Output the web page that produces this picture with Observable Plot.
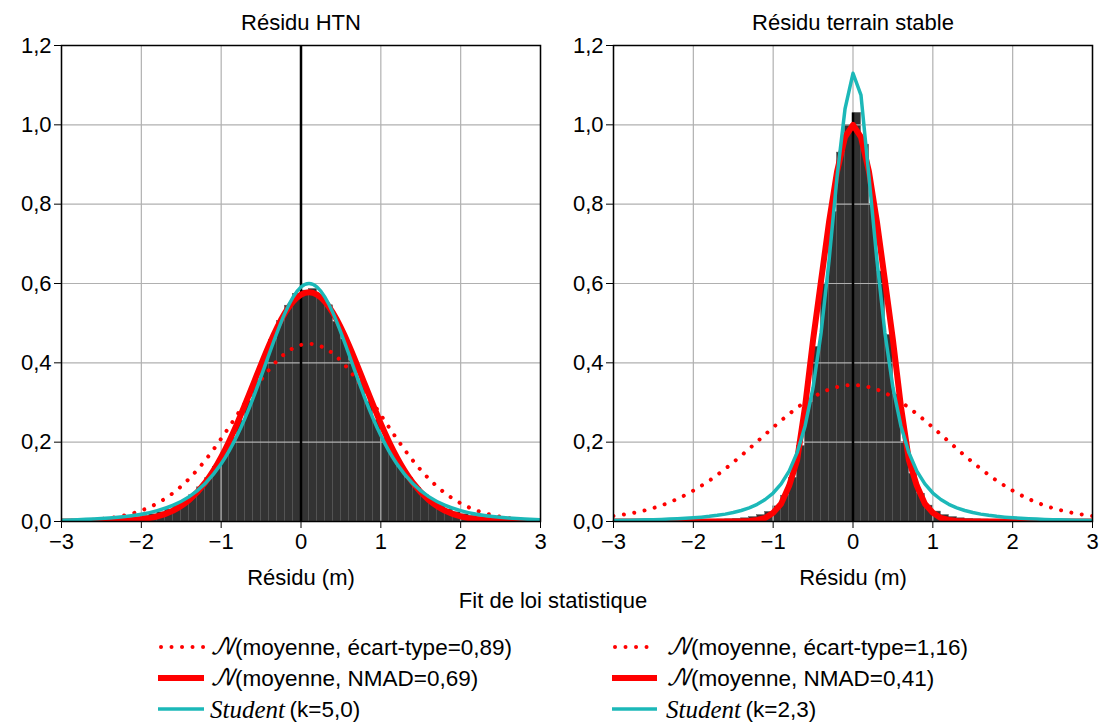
<!DOCTYPE html>
<html><head><meta charset="utf-8">
<script src="https://cdn.jsdelivr.net/npm/d3@7"></script>
<script src="https://cdn.jsdelivr.net/npm/@observablehq/plot@0.6"></script>
<style>
html,body{margin:0;padding:0;background:#fff;}
#wrap{position:relative;width:1107px;height:727px;overflow:hidden;font-family:"Liberation Sans",Arial,sans-serif;}
</style></head><body><div id="wrap"></div>
<script>
// ---------- data ----------
const panelTitles = ["Résidu HTN", "Résidu terrain stable"];
const xLabel = "Résidu (m)";
const figureLabel = "Fit de loi statistique";
const xTicks = [-3, -2, -1, 0, 1, 2, 3];
const yTicks = [0, 0.2, 0.4, 0.6, 0.8, 1.0, 1.2];

// histogram bin starts (width 0.1)
const binStart = [-3.0,-2.9,-2.8,-2.7,-2.6,-2.5,-2.4,-2.3,-2.2,-2.1,-2.0,-1.9,-1.8,-1.7,-1.6,-1.5,-1.4,-1.3,-1.2,-1.1,
  -1.0,-0.9,-0.8,-0.7,-0.6,-0.5,-0.4,-0.3,-0.2,-0.1,0.0,0.1,0.2,0.3,0.4,0.5,0.6,0.7,0.8,0.9,
  1.0,1.1,1.2,1.3,1.4,1.5,1.6,1.7,1.8,1.9,2.0,2.1,2.2,2.3,2.4,2.5,2.6,2.7,2.8,2.9];
const binWidth = 0.1;

const htnHist = [0.002,0.002,0.0025,0.003,0.0035,0.004,0.005,0.0065,0.008,0.0105,0.0136,0.018,0.023,0.030,0.039,0.051,0.066,0.086,0.109,0.138,
  0.171,0.210,0.254,0.303,0.354,0.407,0.458,0.505,0.544,0.574,0.582,0.586,0.571,0.545,0.503,0.459,0.405,0.355,0.301,0.255,
  0.209,0.172,0.137,0.110,0.085,0.066,0.051,0.039,0.030,0.023,0.018,0.0136,0.0105,0.008,0.0065,0.005,0.004,0.0035,0.003,0.0025];

const stableHist = [0.0013,0.0014,0.0015,0.0017,0.0019,0.0021,0.0024,0.0027,0.003,0.0033,0.0036,0.004,0.0045,0.005,0.0055,0.0065,0.008,0.011,0.016,0.024,
  0.038,0.065,0.11,0.19,0.30,0.44,0.60,0.78,0.93,1.00,1.03,0.95,0.80,0.63,0.47,0.32,0.20,0.12,0.07,0.04,
  0.025,0.016,0.011,0.008,0.0065,0.0055,0.005,0.0045,0.004,0.0036,0.0033,0.003,0.0027,0.0024,0.0021,0.0019,0.0017,0.0015,0.0014,0.0013];

// curve sample positions
const curveX02 = [-3.0,-2.8,-2.6,-2.4,-2.2,-2.0,-1.8,-1.6,-1.4,-1.2,-1.0,-0.8,-0.6,-0.4,-0.2,0.0,
  0.2,0.4,0.6,0.8,1.0,1.2,1.4,1.6,1.8,2.0,2.2,2.4,2.6,2.8,3.0];
const curveX01 = [-3.0,-2.9,-2.8,-2.7,-2.6,-2.5,-2.4,-2.3,-2.2,-2.1,-2.0,-1.9,-1.8,-1.7,-1.6,-1.5,-1.4,-1.3,-1.2,-1.1,
  -1.0,-0.9,-0.8,-0.7,-0.6,-0.5,-0.4,-0.3,-0.2,-0.1,0.0,0.1,0.2,0.3,0.4,0.5,0.6,0.7,0.8,0.9,
  1.0,1.1,1.2,1.3,1.4,1.5,1.6,1.7,1.8,1.9,2.0,2.1,2.2,2.3,2.4,2.5,2.6,2.7,2.8,2.9,3.0];

// Résidu HTN curves (on curveX02)
const htnNormSd = [0.0010,0.0022,0.0045,0.0087,0.0159,0.0277,0.0459,0.0723,0.1082,0.1542,0.2087,0.2687,0.3288,0.3826,0.4233,0.4452,
  0.4452,0.4233,0.3826,0.3288,0.2687,0.2087,0.1542,0.1082,0.0723,0.0459,0.0277,0.0159,0.0087,0.0045,0.0022];
const htnNormNmad = [0.0,0.0001,0.0003,0.0008,0.0022,0.0056,0.0131,0.0278,0.0544,0.0980,0.1622,0.2469,0.3455,0.4445,0.5259,0.5720,
  0.5720,0.5259,0.4445,0.3455,0.2469,0.1622,0.0980,0.0544,0.0278,0.0131,0.0056,0.0022,0.0008,0.0003,0.0001];
const htnStudent = [0.0031,0.0043,0.0060,0.0086,0.0124,0.0183,0.0273,0.0412,0.0627,0.0958,0.1454,0.2167,0.3112,0.4216,0.5259,0.5911,
  0.5911,0.5259,0.4216,0.3112,0.2167,0.1454,0.0958,0.0627,0.0412,0.0273,0.0183,0.0124,0.0086,0.0060,0.0043];

// Résidu terrain stable curves
const stableNormSd = [0.014,0.020,0.0285,0.0405,0.0570,0.0778,0.1032,0.1329,0.1661,0.2014,0.2372,0.2712,0.3009,0.3242,0.3389,0.344,
  0.3389,0.3242,0.3009,0.2712,0.2372,0.2014,0.1661,0.1329,0.1032,0.0778,0.0570,0.0405,0.0285,0.020,0.014]; // on curveX02
const stableNormNmad = [0,0,0,0,0,0,0,0,0,0,0,0,0,0,0,0,0.0005,0.0015,0.004,0.009,
  0.022,0.045,0.09,0.155,0.29,0.458,0.607,0.755,0.882,0.969,1.0,0.969,0.882,0.755,0.607,0.458,0.29,0.155,0.09,0.045,
  0.022,0.009,0.004,0.0015,0.0005,0,0,0,0,0,0,0,0,0,0,0,0,0,0,0,0]; // on curveX01
const stableStudent = [0.0026,0.0029,0.0032,0.0036,0.0041,0.0046,0.0053,0.006,0.007,0.0081,0.0094,0.011,0.013,0.0155,0.0186,0.0226,0.0278,0.0345,0.0434,0.0555,
  0.0718,0.0947,0.127,0.1736,0.241,0.338,0.4755,0.658,0.869,1.04,1.13,1.075,0.869,0.658,0.4755,0.338,0.241,0.1736,0.127,0.0947,
  0.0718,0.0555,0.0434,0.0345,0.0278,0.0226,0.0186,0.0155,0.013,0.011,0.0094,0.0081,0.007,0.006,0.0053,0.0046,0.0041,0.0036,0.0032,0.0029,0.0026]; // on curveX01

const zeroLineTop = [1.2, 1.03];

const legendLeft = ["(moyenne, écart-type=0,89)", "(moyenne, NMAD=0,69)", "(k=5,0)"];
const legendRight = ["(moyenne, écart-type=1,16)", "(moyenne, NMAD=0,41)", "(k=2,3)"];
const legendPrefix = ["𝒩", "𝒩", "Student"];

// ---------- styles ----------
const RED = "#ff0000", CYAN = "#1cb8b8";
const fmtY = d => d.toFixed(1).replace(".", ",");
const fmtX = d => d < 0 ? "\u2212" + Math.abs(d) : String(d);
const pts = (xs, ys) => xs.map((x, i) => ({x, y: ys[i]}));

function panel({title, hist, sd, nmad, student, nmadX, nmadCurve, width, marginRight, zeroTop}) {
  const bars = binStart.map((s, i) => ({x1: s, x2: s + binWidth, y: hist[i]}));
  return Plot.plot({
    width, height: 591,
    marginLeft: 61, marginRight, marginTop: 45, marginBottom: 70,
    x: {domain: [-3, 3]},
    y: {domain: [0, 1.2]},
    style: {fontFamily: "'Liberation Sans', Arial, sans-serif", fontSize: "22px", background: "transparent", color: "black", overflow: "visible"},
    marks: [
      Plot.rectY(bars, {x1: "x1", x2: "x2", y: "y", fill: "#333333", stroke: "#555555", strokeWidth: 0.5}),
      Plot.gridX(xTicks, {stroke: "#b0b0b0", strokeOpacity: 1, strokeWidth: 1.2}),
      Plot.gridY(yTicks, {stroke: "#b0b0b0", strokeOpacity: 1, strokeWidth: 1.2}),
      Plot.ruleX([0], {y1: 0, y2: zeroTop, stroke: "black", strokeWidth: 2.5}),
      Plot.line(pts(curveX02, sd), {x: "x", y: "y", curve: "natural", stroke: RED, strokeWidth: 4, strokeDasharray: "0.01 10.5", strokeLinecap: "round", clip: true}),
      Plot.line(pts(nmadX, nmad), {x: "x", y: "y", curve: nmadCurve, stroke: RED, strokeWidth: 6, clip: true}),
      Plot.line(pts(student.x, student.y), {x: "x", y: "y", curve: student.curve, stroke: CYAN, strokeWidth: 3.5, clip: true}),
      Plot.frame({stroke: "black", strokeWidth: 1.5}),
      Plot.axisX(xTicks, {tickSize: 7, tickPadding: 5, tickFormat: fmtX, label: null, fontSize: 22}),
      Plot.axisY(yTicks, {tickSize: 7, tickPadding: 3, tickFormat: fmtY, label: null, fontSize: 22}),
      Plot.text([title], {frameAnchor: "top", lineAnchor: "middle", dy: -23, fontSize: 22, fill: "black"}),
      Plot.text([xLabel], {frameAnchor: "bottom", lineAnchor: "middle", dy: 56, fontSize: 22, fill: "black"})
    ]
  });
}

const wrap = document.getElementById("wrap");
const left = panel({title: panelTitles[0], hist: htnHist, sd: htnNormSd, nmad: htnNormNmad, nmadX: curveX02, nmadCurve: "natural",
  student: {x: curveX02, y: htnStudent, curve: "natural"}, width: 552, marginRight: 12, zeroTop: zeroLineTop[0]});
const right = panel({title: panelTitles[1], hist: stableHist, sd: stableNormSd, nmad: stableNormNmad, nmadX: curveX01, nmadCurve: "linear",
  student: {x: curveX01, y: stableStudent, curve: "linear"}, width: 555, marginRight: 15, zeroTop: zeroLineTop[1]});
left.style.position = "absolute"; left.style.left = "0px"; left.style.top = "0px";
right.style.position = "absolute"; right.style.left = "552px"; right.style.top = "0px";
wrap.appendChild(left); wrap.appendChild(right);

// ---------- legend ----------
const leg = d3.create("svg").attr("width", 1107).attr("height", 727)
  .style("position", "absolute").style("left", "0px").style("top", "0px")
  .attr("font-family", "'Liberation Sans', Arial, sans-serif").attr("font-size", 22.5);
leg.append("text").attr("x", 553).attr("y", 600).attr("text-anchor", "middle").attr("dominant-baseline", "central").attr("font-size", 22).text(figureLabel);
const rowsY = [647, 678, 709];
const cols = [{x0: 158, x1: 204, tx: 210, labels: legendLeft}, {x0: 612, x1: 657, tx: 666, labels: legendRight}];
cols.forEach(c => {
  c.labels.forEach((lab, i) => {
    const y = rowsY[i];
    const ln = leg.append("line").attr("x1", c.x0).attr("x2", c.x1).attr("y1", y).attr("y2", y);
    if (i === 0) ln.attr("stroke", RED).attr("stroke-width", 4).attr("stroke-dasharray", "0.01 10.5").attr("stroke-linecap", "round").attr("x1", c.x0 + 3);
    else if (i === 1) ln.attr("stroke", RED).attr("stroke-width", 6);
    else ln.attr("stroke", CYAN).attr("stroke-width", 3.5);
    const t = leg.append("text").attr("x", c.tx).attr("y", y).attr("dominant-baseline", "central");
    if (i < 2) {
      t.append("tspan").attr("font-family", "'DejaVu Math TeX Gyre', 'DejaVu Serif', serif").attr("font-style", "italic").text(legendPrefix[i]);
    } else {
      t.append("tspan").attr("font-family", "'Liberation Serif', 'DejaVu Serif', serif").attr("font-style", "italic").attr("font-size", 25).text(legendPrefix[i]);
      t.append("tspan").text("\u2009");
    }
    t.append("tspan").text(lab);
  });
});
wrap.appendChild(leg.node());
</script></body></html>
